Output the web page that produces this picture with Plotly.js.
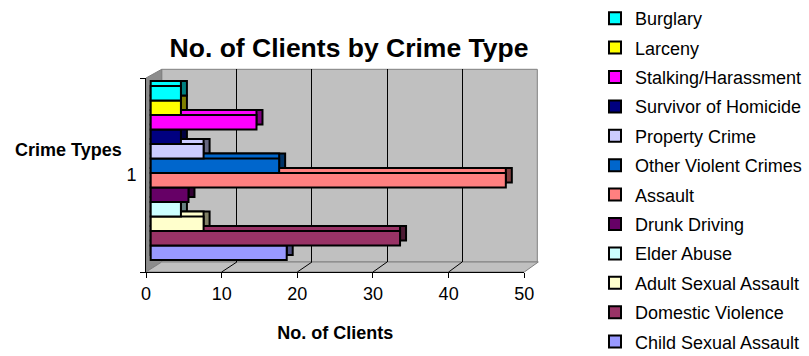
<!DOCTYPE html>
<html>
<head>
<meta charset="utf-8">
<script src="https://cdn.plot.ly/plotly-3.0.1.min.js"></script>
<style>
  html, body { margin: 0; padding: 0; background: #fff; }
  #chart { width: 809px; height: 356px; }
</style>
</head>
<body>
<div id="chart"></div>
<script>
// ---- data -------------------------------------------------------------
const categories = ['1'];
// series listed bottom bar first
const seriesNames = [
  'Child Sexual Assault', 'Domestic Violence', 'Adult Sexual Assault',
  'Elder Abuse', 'Drunk Driving', 'Assault', 'Other Violent Crimes',
  'Property Crime', 'Survivor of Homicide', 'Stalking/Harassment',
  'Larceny', 'Burglary'
];
const clients = [18, 33, 7, 4, 5, 47, 17, 7, 4, 14, 4, 4];
const xTickVals = [0, 10, 20, 30, 40, 50];

// ---- styling ----------------------------------------------------------
const faceColors = [
  '#9999FF', '#993366', '#FFFFCC', '#CCFFFF', '#660066', '#FF8080',
  '#0066CC', '#CCCCFF', '#000080', '#FF00FF', '#FFFF00', '#00FFFF'
];
const sideColors = [
  '#4D4D80', '#4D1A33', '#808066', '#668080', '#330033', '#804040',
  '#003366', '#666680', '#000040', '#800080', '#808000', '#008080'
];
const FONT = 'Liberation Sans, Arial, Helvetica, sans-serif';

const W = 809, H = 356;
const fx = p => p / W;
const fy = p => 1 - p / H;
const xdom = (a, b) => [a / W, b / W];
const ydom = (top, bottom) => [1 - bottom / H, 1 - top / H];

// box geometry (pixels): front plane and back wall of the 3-D frame
const FRONT = { x0: 146, x1: 524.3, top: 78, bottom: 272 };
const BACK = { x0: 161.7, x1: 537.3, top: 69.3, bottom: 262 };
// bar front faces sit a little inside the box, with a small depth
const BAR_X0 = 150.7, BAR_S = 7.556, LO = -0.4, HI = 50;
const BAR_TOP = 80, BAR_BOTTOM = 266;
const DX = 6, DY = 5;

const barXDom = shift => xdom(BAR_X0 + LO * BAR_S + shift, BAR_X0 + HI * BAR_S + shift);
const barYDom = lift => ydom(BAR_TOP - lift, BAR_BOTTOM - lift);

// ---- traces -----------------------------------------------------------
const traces = [];
// invisible anchors so the frame axes (back-wall grid, labelled front axes) get drawn
traces.push({ type: 'scatter', mode: 'markers', x: [0], y: [0], xaxis: 'x', yaxis: 'y',
  marker: { opacity: 0, size: 1 }, showlegend: false, hoverinfo: 'skip' });
traces.push({ type: 'scatter', mode: 'markers', x: [0], y: categories, xaxis: 'x5', yaxis: 'y5',
  marker: { opacity: 0, size: 1 }, showlegend: false, hoverinfo: 'skip' });

const outline = { color: '#000000', width: 2 };
// right-hand faces (shifted right and up), then top faces (shifted up), then fronts
seriesNames.forEach((name, i) => traces.push({
  type: 'bar', orientation: 'h', y: categories, x: [clients[i]],
  xaxis: 'x2', yaxis: 'y2', showlegend: false, hoverinfo: 'skip',
  marker: { color: sideColors[i], line: outline }
}));
seriesNames.forEach((name, i) => traces.push({
  type: 'bar', orientation: 'h', y: categories, x: [clients[i]],
  xaxis: 'x3', yaxis: 'y3', showlegend: false, hoverinfo: 'skip',
  marker: { color: faceColors[i], line: outline }
}));
// legend lists the top bar first
seriesNames.forEach((name, i) => traces.push({
  type: 'bar', orientation: 'h', y: categories, x: [clients[i]],
  name: name, legendgroup: name, legendrank: seriesNames.length - i,
  xaxis: 'x4', yaxis: 'y4', hoverinfo: 'x+name',
  marker: { color: faceColors[i], line: outline }
}));

// ---- frame shapes: walls, floor and floor grid --------------------------
const P = (x, y) => fx(x) + ',' + fy(y);
const shapes = [
  { type: 'rect', xref: 'paper', yref: 'paper', layer: 'below',
    x0: fx(BACK.x0), x1: fx(BACK.x1), y0: fy(BACK.bottom), y1: fy(BACK.top),
    fillcolor: '#C0C0C0', line: { color: '#808080', width: 1 } },
  { type: 'path', xref: 'paper', yref: 'paper', layer: 'below',
    path: 'M' + P(FRONT.x0, FRONT.top) + 'L' + P(BACK.x0, BACK.top) +
          'L' + P(BACK.x0, BACK.bottom) + 'L' + P(FRONT.x0, FRONT.bottom) + 'Z',
    fillcolor: '#8C8C8C', line: { color: '#808080', width: 1 } },
  { type: 'path', xref: 'paper', yref: 'paper', layer: 'below',
    path: 'M' + P(FRONT.x0, FRONT.bottom) + 'L' + P(FRONT.x1, FRONT.bottom) +
          'L' + P(BACK.x1 + 1, BACK.bottom) + 'L' + P(BACK.x0, BACK.bottom) + 'Z',
    fillcolor: '#C0C0C0', line: { color: '#808080', width: 1 } }
];
const fScale = (FRONT.x1 - FRONT.x0) / 50, bScale = (BACK.x1 - BACK.x0) / 50;
xTickVals.slice(1, -1).forEach(v => shapes.push({
  type: 'line', xref: 'paper', yref: 'paper', layer: 'below',
  x0: fx(FRONT.x0 + v * fScale), y0: fy(FRONT.bottom),
  x1: fx(BACK.x0 + v * bScale), y1: fy(BACK.bottom),
  line: { color: '#000000', width: 1 }
}));

const hidden = { visible: false, fixedrange: true };

const layout = {
  width: W, height: H,
  margin: { l: 0, r: 0, t: 0, b: 0 },
  paper_bgcolor: '#FFFFFF',
  plot_bgcolor: 'rgba(0,0,0,0)',
  font: { family: FONT, color: '#000000', size: 18 },
  barmode: 'group', bargap: 1 - 174 / (BAR_BOTTOM - BAR_TOP), bargroupgap: 0,
  title: {
    text: 'No. of Clients by Crime Type',
    font: { family: FONT, size: 26.5, weight: 'bold', color: '#000000' },
    xref: 'paper', yref: 'paper', x: fx(349), y: fy(47.5),
    xanchor: 'center', yanchor: 'middle'
  },
  // back wall grid
  xaxis: { domain: xdom(BACK.x0, BACK.x1), anchor: 'y', range: [0, 50],
           tickvals: xTickVals.slice(1, -1), showgrid: true, gridcolor: '#000000',
           gridwidth: 1, showticklabels: false, ticks: '', zeroline: false,
           showline: false, fixedrange: true },
  yaxis: { domain: ydom(BACK.top, BACK.bottom), anchor: 'x', range: [0, 1],
           showgrid: false, showticklabels: false, ticks: '', zeroline: false,
           showline: false, fixedrange: true },
  // bar side faces
  xaxis2: Object.assign({ domain: barXDom(DX), anchor: 'y2', range: [LO, HI] }, hidden),
  yaxis2: Object.assign({ domain: barYDom(DY), anchor: 'x2', type: 'category', range: [-0.5, 0.5] }, hidden),
  // bar top faces
  xaxis3: Object.assign({ domain: barXDom(0), anchor: 'y3', range: [LO, HI] }, hidden),
  yaxis3: Object.assign({ domain: barYDom(DY), anchor: 'x3', type: 'category', range: [-0.5, 0.5] }, hidden),
  // bar front faces
  xaxis4: Object.assign({ domain: barXDom(0), anchor: 'y4', range: [LO, HI] }, hidden),
  yaxis4: Object.assign({ domain: barYDom(0), anchor: 'x4', type: 'category', range: [-0.5, 0.5] }, hidden),
  // front axes carrying the labels
  xaxis5: {
    domain: xdom(FRONT.x0, FRONT.x1), anchor: 'y5', range: [0, 50],
    tickvals: xTickVals, ticks: 'outside', ticklen: 5, tickcolor: '#000000',
    showline: true, linecolor: '#000000', linewidth: 1,
    showgrid: false, zeroline: false, fixedrange: true,
    tickfont: { family: FONT, size: 18, color: '#000000' },
    title: { text: 'No. of Clients', standoff: 23,
             font: { family: FONT, size: 18, weight: 'bold', color: '#000000' } }
  },
  yaxis5: {
    domain: ydom(FRONT.top, FRONT.bottom), anchor: 'x5', type: 'category',
    categoryorder: 'array', categoryarray: categories, range: [-0.5, 0.5],
    tickson: 'boundaries', ticks: 'outside', ticklen: 5, tickcolor: '#000000',
    showline: true, linecolor: '#000000', linewidth: 1, ticklabelstandoff: 5,
    showgrid: false, zeroline: false, fixedrange: true,
    tickfont: { family: FONT, size: 18, color: '#000000' }
  },
  annotations: [{
    text: 'Crime Types', xref: 'paper', yref: 'paper',
    x: fx(68.7), y: fy(150), xanchor: 'center', yanchor: 'middle',
    showarrow: false, font: { family: FONT, size: 18, weight: 'bold', color: '#000000' }
  }],
  shapes: shapes,
  showlegend: true,
  legend: {
    x: fx(595), y: 1, xanchor: 'left', yanchor: 'top',
    traceorder: 'grouped', tracegroupgap: 3,
    bgcolor: 'rgba(0,0,0,0)', borderwidth: 0,
    font: { family: FONT, size: 18, color: '#000000' }
  }
};

Plotly.newPlot('chart', traces, layout, { staticPlot: true, displayModeBar: false });
</script>
</body>
</html>
